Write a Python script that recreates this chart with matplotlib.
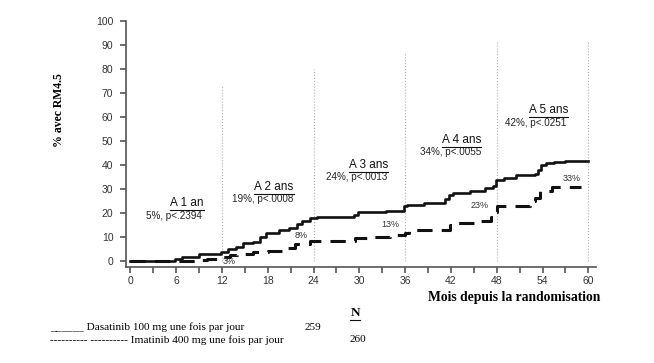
import matplotlib
matplotlib.use("Agg")
import matplotlib.pyplot as plt
from matplotlib.lines import Line2D

# Dasatinib (trait plein) : mois / % avec RM4.5
DASA_T = [0, 5.9, 6.8, 9, 11.8, 12.8, 13.8, 14.8, 16, 17, 17.8, 19.5, 20.8, 21.8, 22.5, 23.5,
          24.5, 29.3, 29.8, 33.5, 35.8, 36.2, 38.5, 41.2, 41.8, 42.3, 44.5, 46.5, 47.5, 47.9,
          49, 50.5, 53, 53.4, 53.8, 54.5, 55.5, 57, 60]
DASA_V = [0, 1, 2, 3, 4, 5, 6, 7.5, 8, 10, 12, 13, 14, 15.5, 17, 18,
          18.7, 19.5, 20.5, 21.2, 23, 23.5, 24.2, 26, 27.5, 28.5, 29.5, 30.5, 31.5, 34,
          34.7, 36, 36.5, 38, 40, 41, 41.6, 42, 42]
# Imatinib (tirets)
IMA_T = [0, 6, 9.3, 10, 12, 13, 14, 16, 18, 20.5, 21.5, 23.5, 29.4, 31, 34, 36, 36.5,
         41.9, 42.2, 45.4, 47.3, 47.7, 48, 52.4, 53, 53.7, 55.2, 59.1]
IMA_V = [0, 0, 0.5, 1, 2, 2.7, 3, 3.8, 4.5, 5.5, 7.3, 8.7, 9.7, 10, 11, 12, 13,
         15.2, 16.2, 17, 18.7, 20.8, 23, 25, 26.5, 29.5, 31.2, 31.2]

YEAR_X = [12, 24, 36, 48, 60]
YEAR_TOP = [73, 80, 87, 92, 92]
YEAR_TITLES = ["A 1 an", "A 2 ans", "A 3 ans", "A 4 ans", "A 5 ans"]
YEAR_STATS = ["5%, p<.2394", "19%, p<.0008", "24%, p<.0013", "34%, p<.0055", "42%, p<.0251"]
TITLE_POS = [(7.4, 24.2), (18.8, 30.9), (31.2, 40.2), (43.4, 50.6), (54.8, 63)]
STAT_POS = [(5.7, 19.1), (17.3, 25.9), (29.6, 35.0), (41.9, 45.5), (53.1, 57.6)]
IMA_LABELS = ["3%", "8%", "13%", "23%", "33%"]
IMA_LABEL_POS = [(13, 0), (22.4, 11), (34, 15.2), (45.8, 23.5), (57.8, 34.7)]

fig = plt.figure(figsize=(6.54, 3.63), dpi=100)
ax = fig.add_axes([0.1925, 0.2658, 0.7187, 0.675])

for x, top in zip(YEAR_X, YEAR_TOP):
    ax.plot([x, x], [0, top], color='#b0b0b0', lw=0.8, linestyle=':', zorder=1)

ax.plot(IMA_T, IMA_V, drawstyle='steps-post', color='#111111', lw=2.2,
        linestyle=(0, (5, 3)), zorder=2)
ax.plot(DASA_T, DASA_V, drawstyle='steps-post', color='#111111', lw=1.9, zorder=3)

underlined = []
for title, pos in zip(YEAR_TITLES, TITLE_POS):
    t = ax.text(pos[0], pos[1], title, ha='center', va='center', fontsize=8.5,
                family='Liberation Sans', color='#111111')
    underlined.append(t)
for stat, pos in zip(YEAR_STATS, STAT_POS):
    ax.text(pos[0], pos[1], stat, ha='center', va='center', fontsize=7.1,
            family='Liberation Sans', color='#222222')
for lab, pos in zip(IMA_LABELS, IMA_LABEL_POS):
    ax.text(pos[0], pos[1], lab, ha='center', va='center', fontsize=6.5,
            family='Liberation Sans', color='#333333')

ax.set_xlim(-0.6, 61)
ax.set_ylim(-2.1, 100)
ax.set_xticks(range(0, 61, 3), minor=True)
ax.set_xticks(range(0, 61, 6))
ax.set_yticks(range(0, 101, 10))
ax.spines['top'].set_visible(False)
ax.spines['right'].set_visible(False)
ax.spines['left'].set_bounds(-2.1, 100)
for s in ['left', 'bottom']:
    ax.spines[s].set_color('#555555')
    ax.spines[s].set_linewidth(1.2)
ax.tick_params(axis='both', which='both', color='#555555', labelsize=7.5,
               labelcolor='#333333', width=1.2)
ax.tick_params(axis='x', which='both', length=4, pad=3)
ax.tick_params(axis='y', length=4, pad=5)
for lbl in ax.get_xticklabels() + ax.get_yticklabels():
    lbl.set_family('Liberation Sans')

ax.set_ylabel('% avec RM4.5', family='Liberation Serif', fontweight='bold', fontsize=8.5)
ax.yaxis.set_label_coords(-0.13, 0.64)

fig.text(514 / 654, 1 - 297 / 363, 'Mois depuis la randomisation', ha='center', va='center',
         family='Liberation Serif', fontweight='bold', fontsize=9.8)

n = fig.text(355 / 654, 1 - 313 / 363, 'N', ha='center', va='center',
             family='Liberation Serif', fontweight='bold', fontsize=9.5)
underlined.append(n)
fig.text(50 / 654, 1 - 327 / 363, '______ Dasatinib 100 mg une fois par jour', ha='left',
         va='center', family='Liberation Serif', fontsize=8.1)
fig.text(50 / 654, 1 - 340 / 363, '---------- ---------- Imatinib 400 mg une fois par jour',
         ha='left', va='center', family='Liberation Serif', fontsize=8.1)
fig.text(313 / 654, 1 - 327 / 363, '259', ha='center', va='center', family='Liberation Serif', fontsize=8.1)
fig.text(358 / 654, 1 - 340 / 363, '260', ha='center', va='center', family='Liberation Serif', fontsize=8.1)

# soulignement des titres
fig.canvas.draw()
renderer = fig.canvas.get_renderer()
W, H = fig.bbox.width, fig.bbox.height
for t in underlined:
    bb = t.get_window_extent(renderer)
    yline = (bb.y0 - 0.5) / H
    fig.add_artist(Line2D([bb.x0 / W, bb.x1 / W], [yline, yline], color='#111111', lw=0.8))

fig.savefig('out.png', dpi=100)
